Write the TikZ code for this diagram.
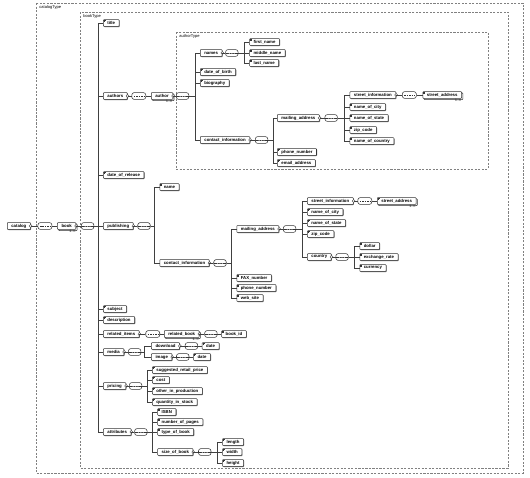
\documentclass[tikz,border=0pt]{standalone}
\usepackage{fontspec}
\setmainfont{Liberation Sans}
\usetikzlibrary{calc,shadows}
\tikzset{
  elem/.style={draw=black!80, fill=white, line width=0.3pt, rounded corners=0.4pt,
    inner xsep=2.3pt, inner ysep=0.5pt, minimum height=3.9pt, anchor=west,
    font=\fontsize{2.45}{2.8}\selectfont\bfseries,
    drop shadow={shadow xshift=0.35pt, shadow yshift=-0.35pt, fill=black!60, opacity=1}},
  many/.style={elem, copy shadow={shadow xshift=0.7pt, shadow yshift=-0.7pt}},
  leaf/.style={path picture={
    \draw[line width=0.15pt] ([xshift=0.3pt,yshift=-0.5pt]path picture bounding box.north west) -- ++(1.1pt,0pt)
      ([xshift=0.3pt,yshift=-0.9pt]path picture bounding box.north west) -- ++(0.8pt,0pt);}},
  kids/.style={append after command={(\tikzlastnode.east) node[circle, draw=black!80, fill=white,
    line width=0.2pt, inner sep=0pt, minimum size=1.7pt]{}}},
  comp/.style={draw=black!80, fill=white, line width=0.3pt, rounded corners=1.4pt,
    minimum width=0.25cm, minimum height=3.9pt, inner sep=0pt, anchor=west},
  seqbox/.style={comp, path picture={
    \draw[line width=0.2pt] (path picture bounding box.west) -- (path picture bounding box.east);
    \foreach \d in {-2.4,0,2.4}
      \fill ($(path picture bounding box.center)+(\d,0)$) circle (0.4pt);}},
  lnbox/.style={comp, minimum width=0.28cm, path picture={
    \draw[line width=0.25pt, dash pattern=on 0.9pt off 0.5pt]
      ($(path picture bounding box.west)+(2,0)$) -- ($(path picture bounding box.east)+(-2,0)$);}},
  wire/.style={draw=black!75, line width=0.3pt},
  typebox/.style={draw=black!50, line width=0.3pt, dash pattern=on 1.2pt off 0.8pt},
  typelabel/.style={anchor=north west, inner sep=0.6pt, font=\fontsize{2.3}{2.6}\selectfont},
  mult/.style={anchor=north east, inner sep=0.2pt, font=\fontsize{1.9}{2.1}\selectfont},
}

\begin{document}
\begin{tikzpicture}[x=0.02cm,y=-0.02cm]
  \path[use as bounding box, fill=white] (0,0) rectangle (530,477);
  % type boxes
  \draw[typebox] (36,3) rectangle (523,473);
  \node[typelabel] at (38,4) {catalogType};
  \draw[typebox] (80,12) rectangle (508,468);
  \node[typelabel] at (82,13) {bookType};
  \draw[typebox] (176,32) rectangle (488,169);
  \node[typelabel] at (178,33) {authorType};

  % root
  \node[elem, kids] (catalog) at (7,226) {catalog};
  \node[lnbox] (catcomp) at ($(catalog.east)+(7,0)$) {};
  \node[many, kids] (book) at ($(catcomp.east)+(5,0)$) {book};
  \node[mult] at (book.south east) {1..∞};
  \node[seqbox] (bookseq) at ($(book.east)+(5,0)$) {};
  \coordinate (bookbus) at ($(bookseq.east)+(4,0)$);
  \coordinate (bookcol) at ($(bookbus)+(5,0)$);
  \draw[wire] (catalog) -- (catcomp) (catcomp) -- (book) (book) -- (bookseq) (bookseq.east) -- (bookbus);

  \node[elem, leaf] (title) at (bookcol |- 0,23) {title};
  \node[elem, kids] (authors) at (bookcol |- 0,96) {authors};
  \node[elem, leaf] (release) at (bookcol |- 0,175) {date\_of\_release};
  \node[elem, kids] (publishing) at (bookcol |- 0,226) {publishing};
  \node[elem, leaf] (subject) at (bookcol |- 0,309) {subject};
  \node[elem, leaf] (descr) at (bookcol |- 0,320) {description};
  \node[elem, kids] (related) at (bookcol |- 0,334) {related\_items};
  \node[elem, kids] (media) at (bookcol |- 0,352) {media};
  \node[elem, kids] (pricing) at (bookcol |- 0,386) {pricing};
  \node[elem, kids] (attributes) at (bookcol |- 0,432) {attributes};
  \foreach \c in {title,authors,release,publishing,subject,descr,related,media,pricing,attributes}
    \draw[wire] (bookbus) |- (\c.west);

  % authors
  \node[lnbox] (authcomp) at ($(authors.east)+(4,0)$) {};
  \node[many, kids] (author) at ($(authcomp.east)+(5,0)$) {author};
  \node[mult] at (author.south east) {1..∞};
  \node[seqbox] (authseq) at ($(author.east)+(3,0)$) {};
  \coordinate (authbus) at ($(authseq.east)+(6,0)$);
  \coordinate (authcol) at ($(authbus)+(5,0)$);
  \draw[wire] (authors) -- (authcomp) (authcomp) -- (author) (author) -- (authseq) (authseq.east) -- (authbus);
  \node[elem, kids] (names) at (authcol |- 0,53) {names};
  \node[elem, leaf] (birth) at (authcol |- 0,72) {date\_of\_birth};
  \node[elem, leaf] (bio) at (authcol |- 0,83) {biography};
  \node[elem, kids] (acontact) at (authcol |- 0,140) {contact\_information};
  \foreach \c in {names,birth,bio,acontact}
    \draw[wire] (authbus) |- (\c.west);

  \node[seqbox] (nameseq) at ($(names.east)+(3,0)$) {};
  \coordinate (namebus) at ($(nameseq.east)+(6,0)$);
  \coordinate (namecol) at ($(namebus)+(5,0)$);
  \draw[wire] (names) -- (nameseq) (nameseq.east) -- (namebus);
  \node[elem, leaf] (first) at (namecol |- 0,42) {first\_name};
  \node[elem, leaf] (middle) at (namecol |- 0,53) {middle\_name};
  \node[elem, leaf] (last) at (namecol |- 0,63) {last\_name};
  \foreach \c in {first,middle,last}
    \draw[wire] (namebus) |- (\c.west);

  \node[seqbox] (acontseq) at ($(acontact.east)+(5,0)$) {};
  \coordinate (acontbus) at ($(acontseq.east)+(5,0)$);
  \coordinate (acontcol) at ($(acontbus)+(4,0)$);
  \draw[wire] (acontact) -- (acontseq) (acontseq.east) -- (acontbus);
  \node[elem, kids] (amail) at (acontcol |- 0,118) {mailing\_address};
  \node[elem, leaf] (aphone) at (acontcol |- 0,152) {phone\_number};
  \node[elem, leaf] (aemail) at (acontcol |- 0,163) {email\_address};
  \foreach \c in {amail,aphone,aemail}
    \draw[wire] (acontbus) |- (\c.west);

  \node[seqbox] (amailseq) at ($(amail.east)+(5,0)$) {};
  \coordinate (amailbus) at ($(amailseq.east)+(7,0)$);
  \coordinate (amailcol) at ($(amailbus)+(5,0)$);
  \draw[wire] (amail) -- (amailseq) (amailseq.east) -- (amailbus);
  \node[elem, kids] (astreet) at (amailcol |- 0,95) {street\_information};
  \node[elem, leaf] (acity) at (amailcol |- 0,107) {name\_of\_city};
  \node[elem, leaf] (astate) at (amailcol |- 0,118) {name\_of\_state};
  \node[elem, leaf] (azip) at (amailcol |- 0,130) {zip\_code};
  \node[elem, leaf] (acountry) at (amailcol |- 0,141) {name\_of\_country};
  \foreach \c in {astreet,acity,astate,azip,acountry}
    \draw[wire] (amailbus) |- (\c.west);
  \node[lnbox] (astrcomp) at ($(astreet.east)+(6,0)$) {};
  \node[many, leaf] (astraddr) at ($(astrcomp.east)+(6,0)$) {street\_address};
  \node[mult] at (astraddr.south east) {1..∞};
  \draw[wire] (astreet) -- (astrcomp) (astrcomp) -- (astraddr);

  % publishing
  \node[seqbox] (pubseq) at ($(publishing.east)+(4,0)$) {};
  \coordinate (pubbus) at ($(pubseq.east)+(4,0)$);
  \coordinate (pubcol) at ($(pubbus)+(5,0)$);
  \draw[wire] (publishing) -- (pubseq) (pubseq.east) -- (pubbus);
  \node[elem, leaf] (pname) at (pubcol |- 0,187) {name};
  \node[elem, kids] (pcontact) at (pubcol |- 0,263) {contact\_information};
  \foreach \c in {pname,pcontact}
    \draw[wire] (pubbus) |- (\c.west);

  \node[seqbox] (pcontseq) at ($(pcontact.east)+(4,0)$) {};
  \coordinate (pcontbus) at ($(pcontseq.east)+(5,0)$);
  \coordinate (pcontcol) at ($(pcontbus)+(5,0)$);
  \draw[wire] (pcontact) -- (pcontseq) (pcontseq.east) -- (pcontbus);
  \node[elem, kids] (pmail) at (pcontcol |- 0,229) {mailing\_address};
  \node[elem, leaf] (fax) at (pcontcol |- 0,278) {FAX\_number};
  \node[elem, leaf] (pphone) at (pcontcol |- 0,288) {phone\_number};
  \node[elem, leaf] (website) at (pcontcol |- 0,298) {web\_site};
  \foreach \c in {pmail,fax,pphone,website}
    \draw[wire] (pcontbus) |- (\c.west);

  \node[seqbox] (pmailseq) at ($(pmail.east)+(4,0)$) {};
  \coordinate (pmailbus) at ($(pmailseq.east)+(6,0)$);
  \coordinate (pmailcol) at ($(pmailbus)+(5,0)$);
  \draw[wire] (pmail) -- (pmailseq) (pmailseq.east) -- (pmailbus);
  \node[elem, kids] (pstreet) at (pmailcol |- 0,201) {street\_information};
  \node[elem, leaf] (pcity) at (pmailcol |- 0,212) {name\_of\_city};
  \node[elem, leaf] (pstate) at (pmailcol |- 0,223) {name\_of\_state};
  \node[elem, leaf] (pzip) at (pmailcol |- 0,234) {zip\_code};
  \node[elem, kids] (pcountry) at (pmailcol |- 0,257) {country};
  \foreach \c in {pstreet,pcity,pstate,pzip,pcountry}
    \draw[wire] (pmailbus) |- (\c.west);
  \node[lnbox] (pstrcomp) at ($(pstreet.east)+(4,0)$) {};
  \node[many, leaf] (pstraddr) at ($(pstrcomp.east)+(5,0)$) {street\_address};
  \node[mult] at (pstraddr.south east) {1..∞};
  \draw[wire] (pstreet) -- (pstrcomp) (pstrcomp) -- (pstraddr);

  \node[seqbox] (cntryseq) at ($(pcountry.east)+(4,0)$) {};
  \coordinate (cntrybus) at ($(cntryseq.east)+(6,0)$);
  \coordinate (cntrycol) at ($(cntrybus)+(5,0)$);
  \draw[wire] (pcountry) -- (cntryseq) (cntryseq.east) -- (cntrybus);
  \node[elem, leaf] (dollar) at (cntrycol |- 0,246) {dollar};
  \node[elem, leaf] (exrate) at (cntrycol |- 0,257) {exchange\_rate};
  \node[elem, leaf] (currency) at (cntrycol |- 0,268) {currency};
  \foreach \c in {dollar,exrate,currency}
    \draw[wire] (cntrybus) |- (\c.west);

  % related items
  \node[lnbox] (relcomp) at ($(related.east)+(6,0)$) {};
  \node[many, kids] (relbook) at ($(relcomp.east)+(4,0)$) {related\_book};
  \node[mult] at (relbook.south east) {1..∞};
  \node[seqbox] (relseq) at ($(relbook.east)+(5,0)$) {};
  \node[elem, leaf] (bookid) at ($(relseq.east)+(4,0)$) {book\_id};
  \draw[wire] (related) -- (relcomp) (relcomp) -- (relbook) (relbook) -- (relseq) (relseq) -- (bookid);

  % media
  \node[seqbox] (mediaseq) at ($(media.east)+(4,0)$) {};
  \coordinate (mediabus) at ($(mediaseq.east)+(3,0)$);
  \coordinate (mediacol) at ($(mediabus)+(7,0)$);
  \draw[wire] (media) -- (mediaseq) (mediaseq.east) -- (mediabus);
  \node[elem, kids] (download) at (mediacol |- 0,346) {download};
  \node[elem, kids] (image) at (mediacol |- 0,357) {image};
  \foreach \c in {download,image}
    \draw[wire] (mediabus) |- (\c.west);
  \node[seqbox] (dlseq) at ($(download.east)+(5,0)$) {};
  \node[elem, leaf] (dldate) at ($(dlseq.east)+(4,0)$) {date};
  \node[seqbox] (imgseq) at ($(image.east)+(4,0)$) {};
  \node[elem, leaf] (imgdate) at ($(imgseq.east)+(4,0)$) {date};
  \draw[wire] (download) -- (dlseq) (dlseq) -- (dldate) (image) -- (imgseq) (imgseq) -- (imgdate);

  % pricing
  \node[seqbox] (priceseq) at ($(pricing.east)+(3,0)$) {};
  \coordinate (pricebus) at ($(priceseq.east)+(5,0)$);
  \coordinate (pricecol) at ($(pricebus)+(5,0)$);
  \draw[wire] (pricing) -- (priceseq) (priceseq.east) -- (pricebus);
  \node[elem, leaf] (retail) at (pricecol |- 0,370) {suggested\_retail\_price};
  \node[elem, leaf] (cost) at (pricecol |- 0,380) {cost};
  \node[elem, leaf] (other) at (pricecol |- 0,391) {other\_in\_production};
  \node[elem, leaf] (stock) at (pricecol |- 0,402) {quantity\_in\_stock};
  \foreach \c in {retail,cost,other,stock}
    \draw[wire] (pricebus) |- (\c.west);

  % attributes
  \node[seqbox] (attrseq) at ($(attributes.east)+(3,0)$) {};
  \coordinate (attrbus) at ($(attrseq.east)+(5,0)$);
  \coordinate (attrcol) at ($(attrbus)+(5,0)$);
  \draw[wire] (attributes) -- (attrseq) (attrseq.east) -- (attrbus);
  \node[elem, leaf] (isbn) at (attrcol |- 0,412) {ISBN};
  \node[elem, leaf] (pages) at (attrcol |- 0,422) {number\_of\_pages};
  \node[elem, leaf] (booktype) at (attrcol |- 0,432) {type\_of\_book};
  \node[elem, kids] (booksize) at (attrcol |- 0,452) {size\_of\_book};
  \foreach \c in {isbn,pages,booktype,booksize}
    \draw[wire] (attrbus) |- (\c.west);
  \node[seqbox] (sizeseq) at ($(booksize.east)+(5,0)$) {};
  \coordinate (sizebus) at ($(sizeseq.east)+(6,0)$);
  \coordinate (sizecol) at ($(sizebus)+(5,0)$);
  \draw[wire] (booksize) -- (sizeseq) (sizeseq.east) -- (sizebus);
  \node[elem, leaf] (length) at (sizecol |- 0,442) {length};
  \node[elem, leaf] (width) at (sizecol |- 0,452) {width};
  \node[elem, leaf] (height) at (sizecol |- 0,463) {height};
  \foreach \c in {length,width,height}
    \draw[wire] (sizebus) |- (\c.west);
\end{tikzpicture}
\end{document}
